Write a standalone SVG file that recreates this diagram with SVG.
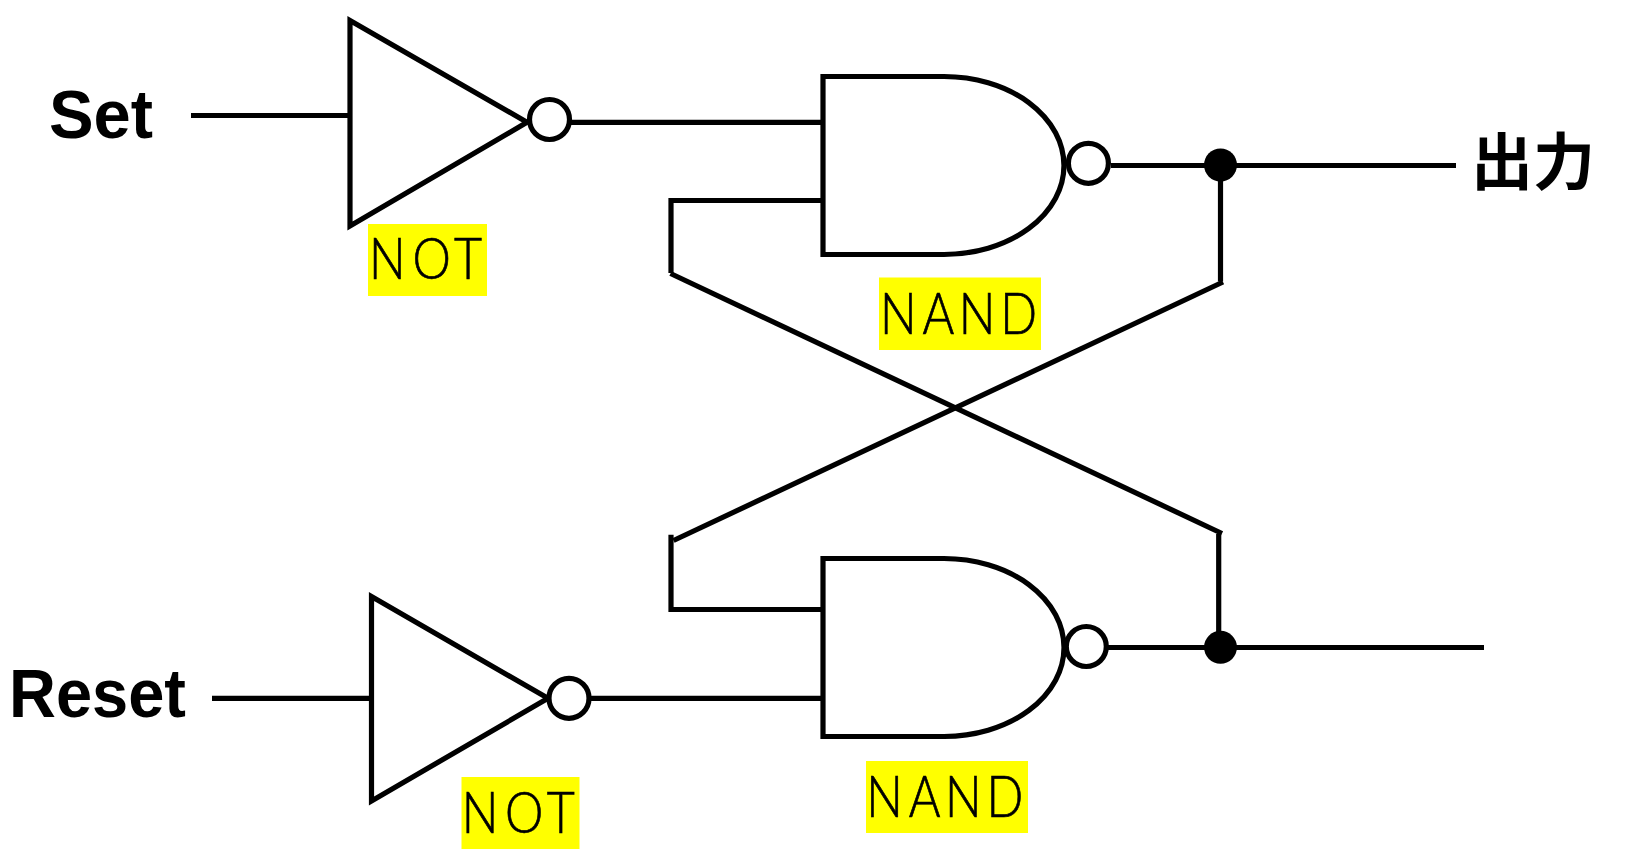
<svg xmlns="http://www.w3.org/2000/svg" width="1647" height="867" viewBox="0 0 1647 867">
<style>
.w{fill:none;stroke:#000;stroke-width:5.2;stroke-linecap:butt;stroke-linejoin:miter}
.s{fill:#fff;stroke:#000;stroke-width:5.2}
.d{fill:#000}
.hl{fill:#ff0}
.b{font-family:"Liberation Sans",Arial,sans-serif;font-weight:700;font-size:69px;fill:#000}
.l{font-family:Lato,"Noto Sans",sans-serif;font-weight:300;font-size:57px;fill:#000;stroke:#000;stroke-width:.7}
.j{font-family:"Noto Sans CJK JP",sans-serif;font-weight:700;font-size:62px;fill:#000}
</style>
<rect width="1647" height="867" fill="#fff"/>
<g id="connectors">
<path class="w" d="M191 115.5H349"/>
<path class="w" d="M570 122.3H823"/>
<path class="w" d="M823 200.5H671V273"/>
<path class="w" d="M670.5 273.5L1222 533.5"/>
<path class="w" d="M1218.7 534V640"/>
<path class="w" d="M1220.5 165V281.5"/>
<path class="w" d="M1223 282L673.5 540.5"/>
<path class="w" d="M671 534.7V609.5H823"/>
<path class="w" d="M212 698.3H371"/>
<path class="w" d="M591 698.3H823"/>
<path class="w" d="M1111 165.5H1456"/>
<path class="w" d="M1108 647.5H1484"/>
</g>
<g id="not1"><path class="s" d="M350 20.5V226L527 122.3Z"/><circle class="s" cx="549.5" cy="119.5" r="20"/></g>
<g id="not2"><path class="s" d="M371.5 596.5V801L548 698.3Z"/><circle class="s" cx="569" cy="698.3" r="20"/></g>
<g id="nand1"><path class="s" d="M823 76.5H944A120 89 0 0 1 944 254.5H823Z"/><circle class="s" cx="1088.4" cy="163.3" r="20"/></g>
<g id="nand2"><path class="s" d="M823 558.5H944A120 89 0 0 1 944 736.5H823Z"/><circle class="s" cx="1086.3" cy="646.5" r="20"/></g>
<g id="junction1"><circle class="d" cx="1220.5" cy="165" r="16.5"/></g>
<g id="junction2"><circle class="d" cx="1220.5" cy="647.3" r="16.5"/></g>
<g id="label-set"><text class="b" x="49" y="138" textLength="104" lengthAdjust="spacingAndGlyphs">Set</text></g>
<g id="label-reset"><text class="b" x="9" y="717" textLength="177" lengthAdjust="spacingAndGlyphs">Reset</text></g>
<g id="label-output"><text class="j" x="1471" y="184.5">出力</text></g>
<g id="label-not1"><rect class="hl" x="368" y="224" width="119" height="72"/><text class="l" transform="scale(.85 1)" x="434.1 485.3 534.1" y="279">NOT</text></g>
<g id="label-nand1"><rect class="hl" x="879" y="277.5" width="162" height="72.5"/><text class="l" transform="scale(.85 1)" x="1035.3 1085.3 1128 1176.8" y="334">NAND</text></g>
<g id="label-not2"><rect class="hl" x="461.5" y="777" width="118" height="72"/><text class="l" transform="scale(.85 1)" x="543.1 594.2 643.1" y="833">NOT</text></g>
<g id="label-nand2"><rect class="hl" x="866" y="761" width="162" height="72"/><text class="l" transform="scale(.85 1)" x="1019.2 1069.2 1111.9 1160.7" y="817.5">NAND</text></g>
</svg>
